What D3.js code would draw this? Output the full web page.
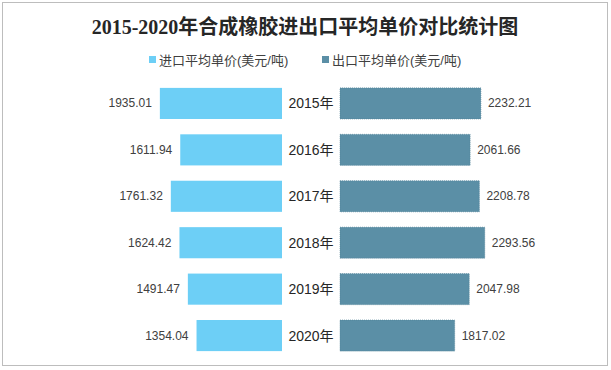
<!DOCTYPE html>
<html>
<head>
<meta charset="utf-8">
<script src="https://cdn.jsdelivr.net/npm/d3@7"></script>
<style>
  body { margin: 0; background: #fff; }
  svg { display: block; }
</style>
</head>
<body>
<script>
// data
var years = ["2015年", "2016年", "2017年", "2018年", "2019年", "2020年"];
var importPrice = [1935.01, 1611.94, 1761.32, 1624.42, 1491.47, 1354.04];
var exportPrice = [2232.21, 2061.66, 2208.78, 2293.56, 2047.98, 1817.02];
var seriesNames = ["进口平均单价(美元/吨)", "出口平均单价(美元/吨)"];
var colores = ["#6DCFF6", "#5B8FA6"];

var ancho = 611, alto = 370;
var fuente = "'Liberation Sans', 'Noto Sans CJK SC', sans-serif";

var svg = d3.select("body").append("svg")
    .attr("width", ancho)
    .attr("height", alto);

// marco
svg.append("rect")
    .attr("x", 2.5).attr("y", 2.5)
    .attr("width", 605).attr("height", 363)
    .style("fill", "#fff")
    .style("stroke", "#BDBDBD")
    .style("stroke-width", 1);

// titulo
svg.append("text")
    .attr("x", 305).attr("y", 34)
    .attr("text-anchor", "middle")
    .style("font-family", "'Liberation Serif', 'Noto Sans CJK SC', serif")
    .style("font-weight", "bold")
    .style("font-size", "20px")
    .style("fill", "#262626")
    .text("2015-2020年合成橡胶进出口平均单价对比统计图");

// leyenda
var leyendaX = [149, 322];
seriesNames.forEach(function (s, i) {
    svg.append("rect")
        .attr("x", leyendaX[i]).attr("y", 56)
        .attr("width", 7).attr("height", 7)
        .style("fill", colores[i]);
    svg.append("text")
        .attr("x", leyendaX[i] + 10).attr("y", 64.5)
        .style("font-family", fuente)
        .style("font-size", "13px")
        .style("fill", "#404040")
        .text(s);
});

// escalas
var y = d3.scaleBand()
    .domain(years)
    .range([80, 359])
    .paddingInner(0.33)
    .paddingOuter(0.17);

var centroIzq = 282, centroDer = 340;
var xIzq = d3.scaleLinear().domain([0, 2500]).range([centroIzq, centroIzq - 157.8]);
var xDer = d3.scaleLinear().domain([0, 2500]).range([centroDer, centroDer + 157.8]);

// barras de importacion
svg.selectAll(".imp").data(importPrice).enter().append("rect")
    .attr("class", "imp")
    .attr("x", function (d) { return xIzq(d); })
    .attr("y", function (d, i) { return y(years[i]); })
    .attr("width", function (d) { return xIzq(0) - xIzq(d); })
    .attr("height", y.bandwidth())
    .style("fill", colores[0]);

svg.selectAll(".impLbl").data(importPrice).enter().append("text")
    .attr("class", "impLbl")
    .attr("x", function (d) { return xIzq(d) - 8; })
    .attr("y", function (d, i) { return y(years[i]) + y.bandwidth() / 2 + 4; })
    .attr("text-anchor", "end")
    .style("font-family", fuente)
    .style("font-size", "12px")
    .style("fill", "#404040")
    .text(function (d) { return d.toFixed(2); });

// barras de exportacion
svg.selectAll(".exp").data(exportPrice).enter().append("rect")
    .attr("class", "exp")
    .attr("x", xDer(0))
    .attr("y", function (d, i) { return y(years[i]); })
    .attr("width", function (d) { return xDer(d) - xDer(0); })
    .attr("height", y.bandwidth())
    .style("fill", colores[1])
    .style("stroke", "#4F7F95")
    .style("stroke-width", 0.6)
    .style("stroke-dasharray", "1,1");

svg.selectAll(".expLbl").data(exportPrice).enter().append("text")
    .attr("class", "expLbl")
    .attr("x", function (d) { return xDer(d) + 7; })
    .attr("y", function (d, i) { return y(years[i]) + y.bandwidth() / 2 + 4; })
    .style("font-family", fuente)
    .style("font-size", "12px")
    .style("fill", "#404040")
    .text(function (d) { return d.toFixed(2); });

// etiquetas de anio
svg.selectAll(".anio").data(years).enter().append("text")
    .attr("class", "anio")
    .attr("x", (centroIzq + centroDer) / 2)
    .attr("y", function (d) { return y(d) + y.bandwidth() / 2 + 5; })
    .attr("text-anchor", "middle")
    .style("font-family", fuente)
    .style("font-size", "14px")
    .style("fill", "#262626")
    .text(function (d) { return d; });
</script>
</body>
</html>
